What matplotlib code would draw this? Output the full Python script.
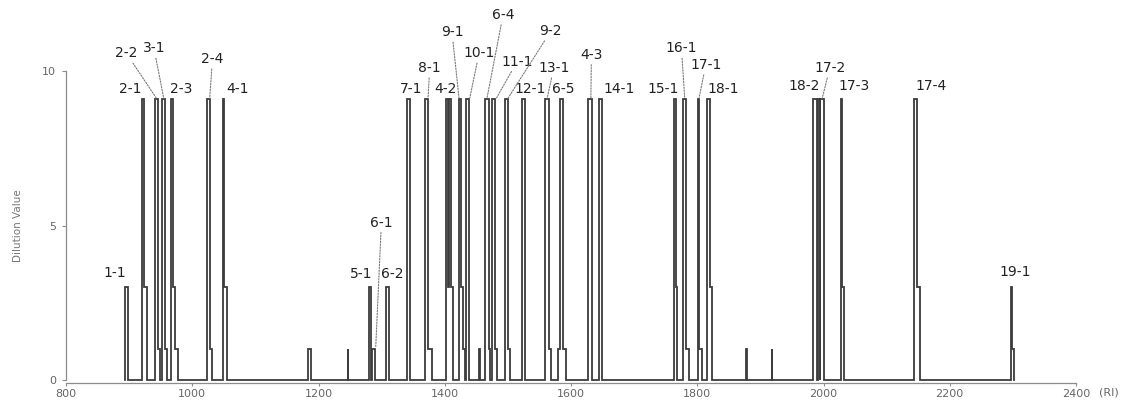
import matplotlib
matplotlib.use("Agg")
import matplotlib.pyplot as plt

# ---- data: step change points (RI where the value changes, new dilution value)
ri_steps = [893.0, 894.0, 898.0,
            921.0, 924.2, 928.6,
            941.6, 946.1, 949.0,
            952.1, 956.8, 960.0,
            965.9, 970.1, 973.3, 977.4,
            1023.4, 1028.8, 1031.9,
            1049.4, 1051.0, 1055.1,
            1183.4, 1188.1,
            1246.2, 1247.2,
            1279.6, 1283.6, 1285.5, 1290.2,
            1307.6, 1311.7,
            1340.8, 1345.6,
            1368.7, 1373.5, 1380.3,
            1402.6, 1405.6, 1406.8, 1409.8, 1413.4,
            1422.6, 1425.4, 1428.6, 1432.2,
            1433.7, 1438.0,
            1454.8, 1455.8,
            1464.4, 1469.6, 1472.3,
            1474.9, 1479.2, 1482.8,
            1495.0, 1499.6, 1503.0,
            1522.4, 1526.7,
            1559.5, 1564.5, 1567.7,
            1579.5, 1583.0, 1587.5, 1591.6,
            1627.5, 1633.3,
            1644.4, 1649.8,
            1763.2, 1765.9, 1768.6,
            1777.5, 1782.8, 1786.5,
            1801.2, 1803.4, 1807.7,
            1815.0, 1820.2, 1824.0,
            1877.5, 1878.5,
            1918.0, 1919.0,
            1983.5, 1989.8, 1990.9, 1994.0, 1995.1, 2000.3,
            2027.3, 2029.3, 2032.5,
            2143.4, 2148.2, 2152.6,
            2297.0, 2298.6, 2301.7]
dilution_steps = [0, 3, 0,
                  9.1, 3, 0,
                  9.1, 1, 0,
                  9.1, 1, 0,
                  9.1, 3, 1, 0,
                  9.1, 1, 0,
                  9.1, 3, 0,
                  1, 0,
                  1, 0,
                  3, 0, 1, 0,
                  3, 0,
                  9.1, 0,
                  9.1, 1, 0,
                  9.1, 3, 9.1, 3, 0,
                  9.1, 3, 1, 0,
                  9.1, 0,
                  1, 0,
                  9.1, 1, 0,
                  9.1, 1, 0,
                  9.1, 1, 0,
                  9.1, 0,
                  9.1, 1, 0,
                  1, 9.1, 1, 0,
                  9.1, 0,
                  9.1, 0,
                  9.1, 3, 0,
                  9.1, 1, 0,
                  9.1, 1, 0,
                  9.1, 3, 0,
                  1, 0,
                  1, 0,
                  9.1, 0, 9.1, 0, 9.1, 0,
                  9.1, 3, 0,
                  9.1, 3, 0,
                  3, 1, 0]

# ---- peak labels placed directly above peaks
plain_names = ["1-1", "2-1", "2-3", "4-1", "5-1", "6-2", "7-1", "4-2", "12-1",
               "6-5", "14-1", "15-1", "18-1", "18-2", "17-3", "17-4", "19-1"]
plain_x = [877, 901, 983, 1071, 1268, 1317, 1347, 1401.5, 1534.6,
           1587, 1677, 1746, 1841, 1970, 2048, 2171, 2304]
plain_y = [3.45, 9.42, 9.42, 9.42, 3.42, 3.42, 9.42, 9.42, 9.42,
           9.42, 9.42, 9.42, 9.42, 9.5, 9.5, 9.5, 3.5]

# ---- peak labels with dotted leader lines
lead_names = ["2-2", "3-1", "2-4", "6-1", "8-1", "9-1", "10-1", "6-4",
              "11-1", "9-2", "13-1", "4-3", "16-1", "17-1", "17-2"]
lead_text_x = [895.7, 939.4, 1032, 1299.6, 1376.2, 1411.5, 1454.3, 1492.3,
               1514.5, 1568, 1572.6, 1632.3, 1775, 1813.4, 2009.8]
lead_text_y = [10.57, 10.73, 10.38, 5.09, 10.09, 11.25, 10.57, 11.81,
               10.30, 11.29, 10.09, 10.52, 10.73, 10.19, 10.09]
lead_peak_x = [943.2, 954.8, 1027.6, 1290.6, 1373.5, 1422.6, 1439.6, 1466.9,
               1481.8, 1500.2, 1562.3, 1631.5, 1780.1, 1802.8, 1998.0]
lead_peak_y = [9.12, 9.12, 9.12, 1.04, 9.12, 9.12, 9.12, 9.12,
               9.12, 9.12, 9.12, 9.12, 9.12, 9.12, 9.12]

x_ticks = [800, 1000, 1200, 1400, 1600, 1800, 2000, 2200, 2400]
y_ticks = [0, 5, 10]

# ---- figure
fig = plt.figure(figsize=(11.37, 4.07), dpi=100)
ax = fig.add_axes([66 / 1137, 27 / 407, 1010 / 1137, 309 / 407])
ax.set_xlim(800, 2400)
ax.set_ylim(0, 10)

ax.plot(ri_steps, dilution_steps, drawstyle="steps-post", color="#3c3c3c",
        lw=1.3, clip_on=False, solid_joinstyle="miter")

for name, x, y in zip(plain_names, plain_x, plain_y):
    ax.text(x, y, name, ha="center", va="center", fontsize=10,
            color="#222222", family="DejaVu Sans")

for name, tx, ty, px, py in zip(lead_names, lead_text_x, lead_text_y,
                                lead_peak_x, lead_peak_y):
    ax.annotate(name, xy=(px, py), xytext=(tx, ty), ha="center", va="center",
                fontsize=10, color="#222222", family="DejaVu Sans",
                annotation_clip=False,
                arrowprops=dict(arrowstyle="-", color="#7a7a7a", lw=0.8,
                                linestyle=(0, (1.3, 1.3)), shrinkA=0, shrinkB=0))

for s in ["top", "right"]:
    ax.spines[s].set_visible(False)
for s in ["left", "bottom"]:
    ax.spines[s].set_color("#8c8c8c")
    ax.spines[s].set_linewidth(0.9)
ax.spines["bottom"].set_position(("outward", 2.2))

ax.set_xticks(x_ticks)
ax.set_yticks(y_ticks)
ax.tick_params(axis="both", colors="#8c8c8c", labelcolor="#666666",
               labelsize=8, width=0.8)
ax.tick_params(axis="x", length=2.5, pad=2)
ax.tick_params(axis="y", length=3, pad=4)

ax.set_ylabel("Dilution Value", fontsize=7.5, color="#777777", labelpad=14)
ax.annotate("(RI)", xy=(1, 0), xycoords="axes fraction", xytext=(24, -9),
            textcoords="offset points", ha="center", va="center",
            fontsize=8, color="#666666", annotation_clip=False)

fig.savefig("out.png", dpi=100)
